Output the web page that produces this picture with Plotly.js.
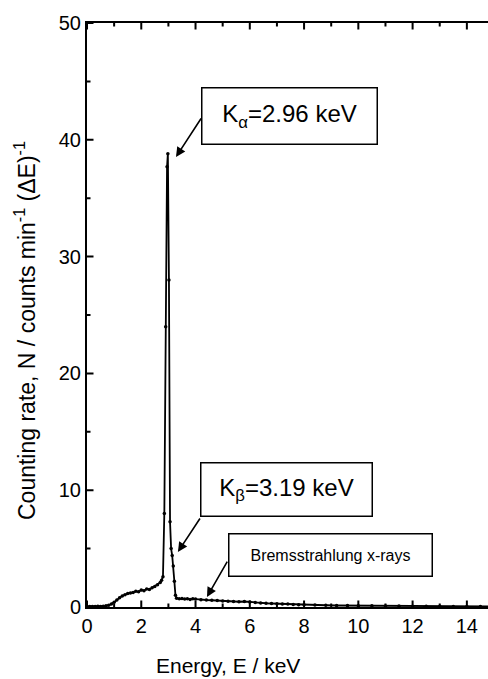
<!DOCTYPE html>
<html><head><meta charset="utf-8">
<script src="https://cdn.plot.ly/plotly-3.0.1.min.js"></script>
<style>html,body{margin:0;padding:0;overflow:hidden;background:#fff;width:488px;height:679px}</style>
</head><body><div id="chart"></div>
<script>
const energy = [0.0,0.1,0.2,0.3,0.4,0.5,0.6,0.7,0.8,0.9,1.0,1.1,1.2,1.3,1.4,1.5,1.6,1.7,1.8,1.9,2.0,2.1,2.2,2.3,2.4,2.5,2.6,2.7,2.75,2.8,2.85,2.9,2.95,2.98,3.02,3.06,3.1,3.14,3.18,3.22,3.26,3.3,3.4,3.5,3.6,3.7,3.8,3.9,4.0,4.2,4.4,4.6,4.8,5.0,5.2,5.4,5.6,5.8,6.0,6.2,6.4,6.6,6.8,7.0,7.2,7.4,7.6,7.8,8.0,8.4,8.8,9.2,9.6,10.0,10.5,11.0,11.5,12.0,12.5,13.0,13.5,14.0,14.5,15.0];
const counts = [0.05,0.05,0.04,0.05,0.06,0.05,0.07,0.1,0.15,0.25,0.4,0.6,0.8,0.95,1.05,1.15,1.2,1.25,1.35,1.3,1.45,1.4,1.55,1.5,1.65,1.75,1.9,2.1,2.3,2.6,8.0,24.0,37.7,38.8,28.0,7.3,5.0,4.4,3.5,2.2,1.0,0.75,0.7,0.72,0.68,0.7,0.65,0.7,0.68,0.62,0.6,0.58,0.55,0.52,0.5,0.48,0.45,0.47,0.42,0.38,0.35,0.32,0.3,0.28,0.26,0.25,0.22,0.2,0.2,0.17,0.15,0.13,0.12,0.11,0.1,0.08,0.08,0.07,0.06,0.06,0.05,0.05,0.05,0.04];
const xRange = [0, 15];
const yRange = [0, 50];
const xMajorTicks = [0, 2, 4, 6, 8, 10, 12, 14];
const xMinorTicks = [1, 3, 5, 7, 9, 11, 13];
const yMajorTicks = [0, 10, 20, 30, 40, 50];
const yMinorTicks = [5, 15, 25, 35, 45];
const labelKa = 'K<sub>α</sub>=2.96 keV';
const labelKb = 'K<sub>β</sub>=3.19 keV';
const labelBrems = 'Bremsstrahlung x-rays';
const xTitle = 'Energy, E / keV';
const yTitle = 'Counting rate, N / counts min<sup>-1</sup> (ΔE)<sup>-1</sup>';

const FONT = 'Liberation Sans, Arial, sans-serif';
const trace = {
  x: energy, y: counts, type: 'scatter', mode: 'lines+markers',
  line: {color: '#000', width: 1.8},
  marker: {color: '#000', size: 3.5},
  cliponaxis: true
};
function arrow(hx, hy, tx, ty) {
  return {x: hx, y: hy, ax: tx, ay: ty, xref: 'x', yref: 'y', axref: 'x', ayref: 'y',
    text: '', showarrow: true, arrowhead: 2, arrowsize: 1.2, arrowwidth: 1.6, arrowcolor: '#000', standoff: 0, startstandoff: 0};
}
function box(x, y, text, size, w, h) {
  return {x: x, y: y, xref: 'x', yref: 'y', text: text, showarrow: false,
    font: {family: FONT, size: size, color: '#000'}, bordercolor: '#000', borderwidth: 1.5,
    borderpad: 0, bgcolor: '#fff', width: w, height: h, xanchor: 'center', yanchor: 'middle'};
}
// inward tick marks drawn as headless annotation arrows, built from the tick value arrays
function tickMark(xref, x, yref, y, ax, ay) {
  return {xref: xref, x: x, yref: yref, y: y, ax: ax, ay: ay, text: '', showarrow: true,
    arrowhead: 0, arrowwidth: 2, arrowcolor: '#000', standoff: 0, startstandoff: 0};
}
const tickAnns = [];
function xTicks(vals, len) {
  vals.forEach(function (v) {
    tickAnns.push(tickMark('x', v, 'paper', 0, 0, -len));
    tickAnns.push(tickMark('x', v, 'paper', 1, 0, len));
  });
}
function yTicks(vals, len) {
  vals.forEach(function (v) {
    tickAnns.push(tickMark('paper', 0, 'y', v, len, 0));
  });
}
xTicks(xMajorTicks, 8); xTicks(xMinorTicks, 5);
yTicks(yMajorTicks, 8); yTicks(yMinorTicks, 5);

const layout = {
  width: 494, height: 679,
  margin: {l: 87, r: 0, t: 23, b: 72},
  paper_bgcolor: '#fff', plot_bgcolor: '#fff',
  showlegend: false,
  font: {family: FONT, color: '#000'},
  xaxis: {
    range: xRange, tickvals: xMajorTicks, ticks: '',
    showline: true, linewidth: 2, linecolor: '#000', mirror: true, showgrid: false, zeroline: false,
    tickfont: {family: FONT, size: 20, color: '#000'}
  },
  yaxis: {
    range: yRange, tickvals: yMajorTicks, ticks: '',
    showline: true, linewidth: 2, linecolor: '#000', mirror: true, showgrid: false, zeroline: false,
    tickfont: {family: FONT, size: 20, color: '#000'}
  },
  annotations: [
    box(7.48, 42.0, labelKa, 24, 174, 55),
    box(7.37, 10.02, labelKb, 24, 170, 52),
    box(8.96, 4.41, labelBrems, 16, 202, 41),
    arrow(3.28, 38.53, 4.24, 41.95),
    arrow(3.35, 4.71, 4.20, 7.71),
    arrow(4.42, 0.86, 5.20, 4.02),
    {xref: 'paper', yref: 'paper', x: (228-87)/407, y: (607-665)/584, text: xTitle, showarrow: false,
     font: {family: FONT, size: 21, color: '#000'}, xanchor: 'center', yanchor: 'middle'},
    {xref: 'paper', yref: 'paper', x: (25-87)/407, y: (607-331)/584, text: yTitle, showarrow: false, textangle: -90,
     font: {family: FONT, size: 23, color: '#000'}, xanchor: 'center', yanchor: 'middle'}
  ].concat(tickAnns)
};
Plotly.newPlot('chart', [trace], layout, {displayModeBar: false, staticPlot: true});
</script></body></html>
